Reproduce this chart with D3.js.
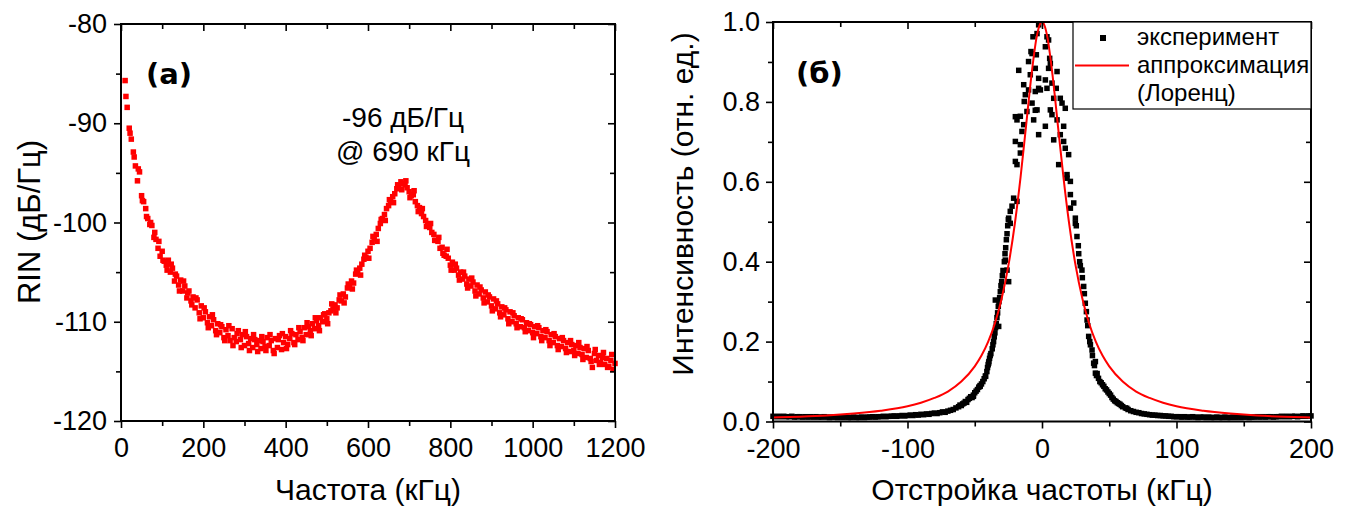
<!DOCTYPE html>
<html>
<head>
<meta charset="utf-8">
<script src="https://cdn.jsdelivr.net/npm/d3@7"></script>
<style>
  body { margin: 0; background: #fff; }
  svg { display: block; font-family: "Liberation Sans", Arial, sans-serif; }
</style>
</head>
<body>
<svg id="chart"></svg>
<script>
// (a) RIN spectrum: [frequency kHz, RIN dB/Hz]
let rinPoints = [
  [10,-85.7],[15,-88.4],[20,-90.5],[25,-91.6],[30,-92.9],[35,-94.3],[40,-95.8],[45,-94.9],[50,-97.3],[55,-97.9],
  [60,-98.6],[65,-99.6],[70,-100.2],[75,-100.3],[80,-101.5],[85,-101.7],[90,-102.6],[95,-103.4],[100,-102.9],[105,-103.9],
  [110,-104.3],[115,-103.8],[120,-105.0],[125,-104.6],[130,-105.9],[135,-105.4],[140,-106.3],[145,-105.8],[150,-106.9],[155,-106.4],
  [160,-107.6],[165,-106.9],[170,-107.9],[175,-107.5],[180,-108.6],[185,-107.8],[190,-109.1],[195,-108.4],[200,-109.6],[205,-109.0],
  [210,-110.1],[215,-109.5],[220,-110.4],[225,-109.8],[230,-110.9],[235,-110.2],[240,-111.1],[245,-110.5],[250,-111.6],[255,-110.8],
  [260,-111.4],[265,-111.9],[270,-110.7],[275,-111.6],[280,-112.0],[285,-110.9],[290,-111.8],[295,-111.3],[300,-112.4],[305,-111.5],
  [310,-112.2],[315,-111.7],[320,-112.6],[325,-111.8],[330,-112.3],[335,-111.9],[340,-112.7],[345,-112.0],[350,-112.5],[355,-111.6],
  [360,-112.4],[365,-111.9],[370,-112.9],[375,-111.7],[380,-112.6],[385,-111.4],[390,-112.8],[395,-112.1],[400,-111.5],[405,-112.3],
  [410,-111.7],[415,-111.2],[420,-112.1],[425,-111.3],[430,-111.8],[435,-111.0],[440,-111.6],[445,-110.6],[450,-111.3],[455,-110.5],
  [460,-110.9],[465,-110.2],[470,-110.7],[475,-109.9],[480,-110.4],[485,-109.6],[490,-110.0],[495,-109.2],[500,-109.7],[505,-109.1],
  [510,-108.9],[515,-108.7],[520,-108.3],[525,-108.6],[530,-107.8],[535,-107.9],[540,-107.2],[545,-107.5],[550,-106.6],[555,-106.5],
  [560,-105.9],[565,-106.1],[570,-105.2],[575,-105.0],[580,-104.6],[585,-104.2],[590,-103.7],[595,-103.5],[600,-102.9],[605,-102.6],
  [610,-102.0],[615,-101.6],[620,-101.2],[625,-100.6],[630,-100.1],[635,-99.6],[640,-99.2],[645,-98.6],[650,-98.3],[655,-97.8],
  [660,-97.4],[665,-97.1],[670,-96.6],[675,-96.3],[680,-95.9],[685,-96.1],[690,-96.2],[695,-96.5],[700,-96.9],[705,-97.3],
  [710,-97.2],[715,-97.9],[720,-98.3],[725,-98.5],[730,-99.1],[735,-99.4],[740,-99.8],[745,-100.3],[750,-100.5],[755,-101.0],
  [760,-101.2],[765,-101.8],[770,-101.9],[775,-102.6],[780,-102.5],[785,-103.3],[790,-103.4],[795,-103.6],[800,-104.3],[805,-104.0],
  [810,-104.8],[815,-104.6],[820,-105.3],[825,-105.0],[830,-105.7],[835,-105.4],[840,-106.2],[845,-105.7],[850,-106.4],[855,-106.0],
  [860,-106.9],[865,-106.3],[870,-107.2],[875,-106.8],[880,-107.6],[885,-107.0],[890,-108.0],[895,-107.5],[900,-108.4],[905,-107.7],
  [910,-108.7],[915,-108.2],[920,-109.1],[925,-108.5],[930,-109.3],[935,-108.8],[940,-109.7],[945,-109.0],[950,-110.0],[955,-109.4],
  [960,-110.2],[965,-109.6],[970,-110.5],[975,-109.8],[980,-110.6],[985,-110.1],[990,-110.9],[995,-110.3],[1000,-111.1],[1005,-110.5],
  [1010,-111.2],[1015,-110.6],[1020,-111.5],[1025,-110.9],[1030,-111.6],[1035,-111.0],[1040,-111.9],[1045,-111.3],[1050,-112.1],[1055,-111.5],
  [1060,-112.4],[1065,-111.7],[1070,-112.5],[1075,-111.9],[1080,-112.7],[1085,-112.1],[1090,-113.0],[1095,-112.3],[1100,-112.9],[1105,-112.4],
  [1110,-113.2],[1115,-112.6],[1120,-113.3],[1125,-112.7],[1130,-113.6],[1135,-112.9],[1140,-113.7],[1145,-114.6],[1150,-113.2],[1155,-113.9],
  [1160,-113.4],[1165,-114.1],[1170,-113.6],[1175,-114.3],[1180,-113.7],[1185,-114.5],[1190,-113.9],[1195,-114.8],[1200,-114.2]
]
// second sweep of the same spectrum (fills the noise band)
let rinPoints2 = [
  [12,-87.3],[22,-91.0],[32,-93.4],[42,-94.6],[52,-97.8],[62,-99.4],[72,-100.0],[82,-101.0],[92,-101.9],[102,-103.8],
  [112,-104.8],[122,-104.2],[132,-105.2],[142,-106.9],[152,-105.9],[162,-107.1],[172,-108.3],[182,-107.6],[192,-109.7],[202,-108.6],
  [212,-110.6],[222,-109.3],[232,-111.3],[242,-110.3],[252,-111.9],[262,-110.4],[272,-112.4],[282,-111.2],[292,-112.6],[302,-111.0],
  [312,-112.9],[322,-111.3],[332,-113.0],[342,-111.5],[352,-112.9],[362,-111.3],[372,-113.2],[382,-111.8],[392,-111.2],[402,-112.7],
  [412,-110.9],[422,-112.3],[432,-110.6],[442,-111.9],[452,-110.1],[462,-111.4],[472,-109.6],[482,-110.9],[492,-109.3],[502,-110.2],
  [512,-108.2],[522,-109.1],[532,-107.3],[542,-108.1],[552,-106.2],[562,-106.7],[572,-104.8],[582,-105.3],[592,-103.3],[602,-103.6],
  [612,-101.4],[622,-101.9],[632,-99.7],[642,-99.8],[652,-97.7],[662,-98.0],[672,-96.2],[682,-96.7],[692,-95.8],[702,-97.5],
  [712,-96.8],[722,-98.9],[732,-98.6],[742,-100.4],[752,-100.1],[762,-101.8],[772,-101.5],[782,-103.1],[792,-102.7],[802,-104.8],
  [812,-104.2],[822,-105.8],[832,-105.0],[842,-106.6],[852,-105.6],[862,-107.4],[872,-106.5],[882,-108.1],[892,-107.3],[902,-108.9],
  [912,-107.9],[922,-109.5],[932,-108.6],[942,-110.2],[952,-109.1],[962,-110.6],[972,-109.7],[982,-111.0],[992,-110.2],[1002,-111.6],
  [1012,-110.4],[1022,-111.9],[1032,-110.8],[1042,-112.4],[1052,-111.2],[1062,-112.8],[1072,-111.6],[1082,-113.1],[1092,-111.9],[1102,-113.4],
  [1112,-112.1],[1122,-113.8],[1132,-112.5],[1142,-114.0],[1152,-112.8],[1162,-114.3],[1172,-113.1],[1182,-114.6],[1192,-113.3]
]

// (б) measured line shape: [detuning kHz, intensity a.u.]
let expPoints = [
  [-200,.013],[-198,.012],[-196,.013],[-194,.012],[-192,.013],[-190,.012],[-188,.012],[-186,.013],[-184,.011],[-182,.012],
  [-180,.012],[-178,.011],[-176,.012],[-174,.011],[-172,.012],[-170,.011],[-168,.012],[-166,.011],[-164,.011],[-162,.012],
  [-160,.011],[-158,.010],[-156,.011],[-154,.011],[-152,.010],[-150,.011],[-148,.010],[-146,.011],[-144,.010],[-142,.010],
  [-140,.011],[-138,.010],[-136,.010],[-134,.011],[-132,.010],[-130,.011],[-128,.011],[-126,.012],[-124,.011],[-122,.012],
  [-120,.012],[-118,.013],[-116,.012],[-114,.013],[-112,.013],[-110,.014],[-108,.013],[-106,.014],[-104,.015],[-102,.014],
  [-100,.015],[-98,.016],[-96,.015],[-94,.017],[-92,.016],[-90,.018],[-88,.017],[-86,.019],[-84,.018],[-82,.020],
  [-80,.021],[-78,.020],[-76,.022],[-74,.024],[-72,.023],[-70,.026],[-68,.028],[-66,.030],[-64,.034],[-62,.037],
  [-61,.041],[-60,.040],[-59,.044],[-58,.046],[-57,.050],[-56,.048],[-55,.055],[-54,.058],[-53,.062],[-52,.060],
  [-51,.066],[-50,.072],[-49,.076],[-48,.080],[-47,.086],[-46,.090],[-45,.094],[-44,.100],[-43,.107],[-42,.114],
  [-41,.125],[-40.5,.135],[-40,.142],[-39.5,.150],[-39,.158],[-38.5,.165],[-38,.170],[-37,.182],[-36.5,.192],[-36,.200],
  [-35.5,.212],[-35,.222],[-34.5,.235],[-34,.245],[-33.5,.260],[-33,.272],[-32.5,.288],[-32,.300],[-31.5,.310],[-31,.325],
  [-30.5,.340],[-30,.350],[-29.5,.365],[-29,.378],[-28,.400],[-27.5,.420],[-27,.435],[-26.5,.455],[-26,.470],[-25.5,.490],
  [-25,.505],[-34.7,.304],[-29.7,.329],[-24.8,.350],[-27.3,.404],[-26,.379],[-23.6,.496],[-32.2,.238],[-39.7,.146],[-42,.113],
  [-51,.063],[-46,.088],
  [-24.8,.509],[-23.6,.526],[-22.3,.539],[-21.1,.559],[-19.8,.651],[-19.8,.701],[-19.8,.763],[-18.6,.551],[-18.6,.643],[-18.6,.755],
  [-17.3,.879],[-16.1,.693],[-16.1,.672],[-16.1,.764],[-14.9,.726],[-13.6,.843],[-13.6,.743],[-13.2,.801],[-12.4,.818],[-11.2,.776],
  [-10,.901],[-10,.830],[-8.7,.868],[-8.2,.926],[-7.4,.797],[-7.4,.921],[-6.7,.963],[-6.2,.755],[-5,.884],[-5,.826],
  [-5,.779],[-4.2,.918],[-3.7,.780],[-3.7,.971],[-2.5,.993],[-2.5,.859],[-2.5,.718],[-2.5,.834],[-1.2,.830],[2.5,.938],
  [2.5,.855],[2.5,.739],[3.7,.834],[3.7,.963],[4.9,.955],[4.9,.884],[5.7,.909],[6.2,.780],[6.2,.896],[7.4,.847],
  [7.4,.768],[8.7,.809],[8.7,.705],[10.6,.834],[11.2,.876],[11.2,.755],[12.4,.643],[13.6,.809],[13.6,.718],[14.9,.797],
  [16.1,.739],[16.1,.701],[17.3,.784],[17.3,.684],[18.6,.618],[18.6,.609],[19.8,.668],[21.1,.601],[21.1,.568],[21.1,.534],
  [23.6,.547],[24.8,.509],
  [24.8,.496],[25.5,.490],[26,.463],[27,.440],[27.3,.420],[28,.400],[28.5,.390],[29.7,.379],[30,.360],[31,.338],
  [31.5,.320],[32.2,.296],[33,.275],[33.5,.254],[34,.240],[34.7,.213],[35.5,.200],[36,.192],[37.2,.179],[37.5,.165],
  [38.4,.146],[39,.140],[39.7,.121],[39.7,.150],[40.5,.115],[41,.120],[42,.108],[43,.100],[44,.097],[45,.092],
  [46,.088],[47,.082],[48,.079],[49,.074],[50,.070],[51,.066],[52,.060],[53,.056],[54,.052],[55,.050],
  [56,.047],[57,.045],[58,.043],[59,.040],[60,.037],[62,.034],[63,.033],[64,.030],[66,.027],[68,.025],
  [70,.023],[72,.022],[74,.020],[76,.019],[78,.018],[80,.017],[82,.016],[84,.016],[86,.015],[88,.015],
  [90,.014],[92,.014],[94,.013],[96,.013],[98,.012],[100,.012],[102,.012],[104,.011],[106,.012],[108,.011],
  [110,.011],[112,.012],[114,.011],[116,.010],[118,.011],[120,.011],[122,.010],[124,.011],[126,.010],[128,.010],
  [130,.011],[132,.010],[134,.010],[136,.011],[138,.010],[140,.010],[142,.011],[144,.010],[146,.011],[148,.010],
  [150,.011],[152,.011],[154,.010],[156,.011],[158,.011],[160,.012],[162,.011],[164,.012],[166,.011],[168,.012],
  [170,.012],[172,.011],[174,.012],[176,.012],[178,.013],[180,.012],[182,.013],[184,.012],[186,.013],[188,.013],
  [190,.012],[192,.013],[194,.014],[196,.013],[198,.014],[200,.014]
]

// (б) Lorentz fit
let fitDetuning  = [-200,-180,-160,-140,-120,-100,-90,-80,-70,-60,-50,-45,-40,-35,-30,-25,-20,-16,-12,-8,-4,-2,0,
                    2,4,8,12,16,20,25,30,35,40,45,50,60,70,80,90,100,120,140,160,180,200]
let fitIntensity = [.010,.012,.015,.020,.027,.038,.047,.059,.075,.100,.138,.165,.200,.246,.308,.390,.500,.610,.735,.862,.962,.990,1.0,
                    .990,.962,.862,.735,.610,.500,.390,.308,.246,.200,.165,.138,.100,.075,.059,.047,.038,.027,.020,.015,.012,.010]

let rinFreqMajor = [0, 200, 400, 600, 800, 1000, 1200]
let rinFreqMinor = [100, 300, 500, 700, 900, 1100]
let rinMajor = [-120, -110, -100, -90, -80]
let rinMinor = [-115, -105, -95, -85]
let detMajor = [-200, -100, 0, 100, 200]
let detMinor = [-150, -50, 50, 150]
let intMajor = [0, 0.2, 0.4, 0.6, 0.8, 1.0]
let intMinor = [0.1, 0.3, 0.5, 0.7, 0.9]

let legendLabels = ["эксперимент", "аппроксимация", "(Лоренц)"]

let width = 1352
let height = 515
let dot = 5.5

let svg = d3.select("#chart").attr("width", width).attr("height", height)

let xA = d3.scaleLinear().domain([0, 1200]).range([121, 615])
let yA = d3.scaleLinear().domain([-120, -80]).range([421, 24])
let xB = d3.scaleLinear().domain([-200, 200]).range([773, 1311])
let yB = d3.scaleLinear().domain([0, 1]).range([421.5, 22])

let styleAxis = (g) => {
  g.select(".domain").remove()
  g.selectAll("line").attr("stroke", "#000").attr("stroke-width", 1.6)
  g.selectAll("text").attr("fill", "#000").style("font-size", "27px")
     .style("font-family", "'Liberation Sans', Arial, sans-serif")
}

let drawFrame = (x, y, xMaj, xMin, yMaj, yMin, xFmt, yFmt, yPad) => {
  let x0 = x.range()[0], x1 = x.range()[1]
  let y0 = y.range()[0], y1 = y.range()[1]

  // bottom and left: ticks outward, with labels
  svg.append("g").attr("transform", "translate(0," + y0 + ")")
     .call(d3.axisBottom(x).tickValues(xMaj).tickSize(7).tickPadding(10).tickFormat(xFmt)).call(styleAxis)
  svg.append("g").attr("transform", "translate(0," + y0 + ")")
     .call(d3.axisBottom(x).tickValues(xMin).tickSize(5).tickFormat("")).call(styleAxis)
  svg.append("g").attr("transform", "translate(" + x0 + ",0)")
     .call(d3.axisLeft(y).tickValues(yMaj).tickSize(7).tickPadding(yPad).tickFormat(yFmt)).call(styleAxis)
  svg.append("g").attr("transform", "translate(" + x0 + ",0)")
     .call(d3.axisLeft(y).tickValues(yMin).tickSize(5).tickFormat("")).call(styleAxis)

  // top and right: ticks inward, no labels
  svg.append("g").attr("transform", "translate(0," + y1 + ")")
     .call(d3.axisTop(x).tickValues(xMaj).tickSize(-7).tickFormat("")).call(styleAxis)
  svg.append("g").attr("transform", "translate(0," + y1 + ")")
     .call(d3.axisTop(x).tickValues(xMin).tickSize(-5).tickFormat("")).call(styleAxis)
  svg.append("g").attr("transform", "translate(" + x1 + ",0)")
     .call(d3.axisRight(y).tickValues(yMaj).tickSize(-7).tickFormat("")).call(styleAxis)
  svg.append("g").attr("transform", "translate(" + x1 + ",0)")
     .call(d3.axisRight(y).tickValues(yMin).tickSize(-5).tickFormat("")).call(styleAxis)

  svg.append("rect")
     .attr("x", x0).attr("y", y1)
     .attr("width", x1 - x0).attr("height", y0 - y1)
     .attr("fill", "none").attr("stroke", "#000").attr("stroke-width", 2)
}

let drawPanelA = () => {
  svg.append("g").selectAll("rect")
     .data(rinPoints.concat(rinPoints2))
     .enter()
     .append("rect")
     .attr("x", d => xA(d[0]) - dot / 2)
     .attr("y", d => yA(d[1]) - dot / 2)
     .attr("width", dot).attr("height", dot)
     .attr("fill", "#ff0000")

  drawFrame(xA, yA, rinFreqMajor, rinFreqMinor, rinMajor, rinMinor, d => String(d), d => String(d), 7)

  svg.append("text").text("(a)")
     .attr("x", 146).attr("y", 84)
     .style("font-family", "'DejaVu Sans', sans-serif").style("font-weight", "bold").style("font-size", "29px")

  svg.append("text").attr("text-anchor", "middle").style("font-size", "28px")
     .selectAll("tspan").data(["-96 дБ/Гц", "@ 690 кГц"]).enter().append("tspan")
     .attr("x", 403).attr("y", (d, i) => i == 0 ? 127 : 161)
     .text(d => d)

  svg.append("text").text("Частота (кГц)")
     .attr("x", 368).attr("y", 500).attr("text-anchor", "middle").style("font-size", "30px")

  svg.append("text").text("RIN (дБ/Гц)")
     .attr("transform", "translate(40,222) rotate(-90)")
     .attr("text-anchor", "middle").style("font-size", "31px")
}

let drawPanelB = () => {
  svg.append("g").selectAll("rect")
     .data(expPoints)
     .enter()
     .append("rect")
     .attr("x", d => xB(d[0]) - dot / 2)
     .attr("y", d => yB(d[1]) - dot / 2)
     .attr("width", dot).attr("height", dot)
     .attr("fill", "#000")

  let fit = d3.line()
              .x((d, i) => xB(fitDetuning[i]))
              .y((d, i) => yB(fitIntensity[i]))
              .curve(d3.curveMonotoneX)
  svg.append("path")
     .attr("d", fit(fitDetuning))
     .attr("fill", "none").attr("stroke", "#ff0000").attr("stroke-width", 2)

  drawFrame(xB, yB, detMajor, detMinor, intMajor, intMinor, d => String(d), d3.format(".1f"), 6)

  // legend
  let lg = svg.append("g")
  lg.append("rect").attr("x", 1073).attr("y", 22).attr("width", 238).attr("height", 87)
    .attr("fill", "#fff").attr("stroke", "#000").attr("stroke-width", 1.2)
  lg.append("rect").attr("x", 1100).attr("y", 35).attr("width", 6).attr("height", 6).attr("fill", "#000")
  lg.append("line").attr("x1", 1075).attr("x2", 1129).attr("y1", 65.5).attr("y2", 65.5)
    .attr("stroke", "#ff0000").attr("stroke-width", 2)
  lg.selectAll("text").data(legendLabels).enter().append("text")
    .attr("x", 1137).attr("y", (d, i) => 45 + i * 28)
    .style("font-size", "24px")
    .text(d => d)

  svg.append("text").text("(б)")
     .attr("x", 796).attr("y", 83)
     .style("font-family", "'DejaVu Sans', sans-serif").style("font-weight", "bold").style("font-size", "29px")

  svg.append("text").text("Отстройка частоты (кГц)")
     .attr("x", 1042).attr("y", 500).attr("text-anchor", "middle").style("font-size", "30px")

  svg.append("text").text("Интенсивность (отн. ед.)")
     .attr("transform", "translate(693,204) rotate(-90)")
     .attr("text-anchor", "middle").style("font-size", "30px")
}

drawPanelA()
drawPanelB()
</script>
</body>
</html>
